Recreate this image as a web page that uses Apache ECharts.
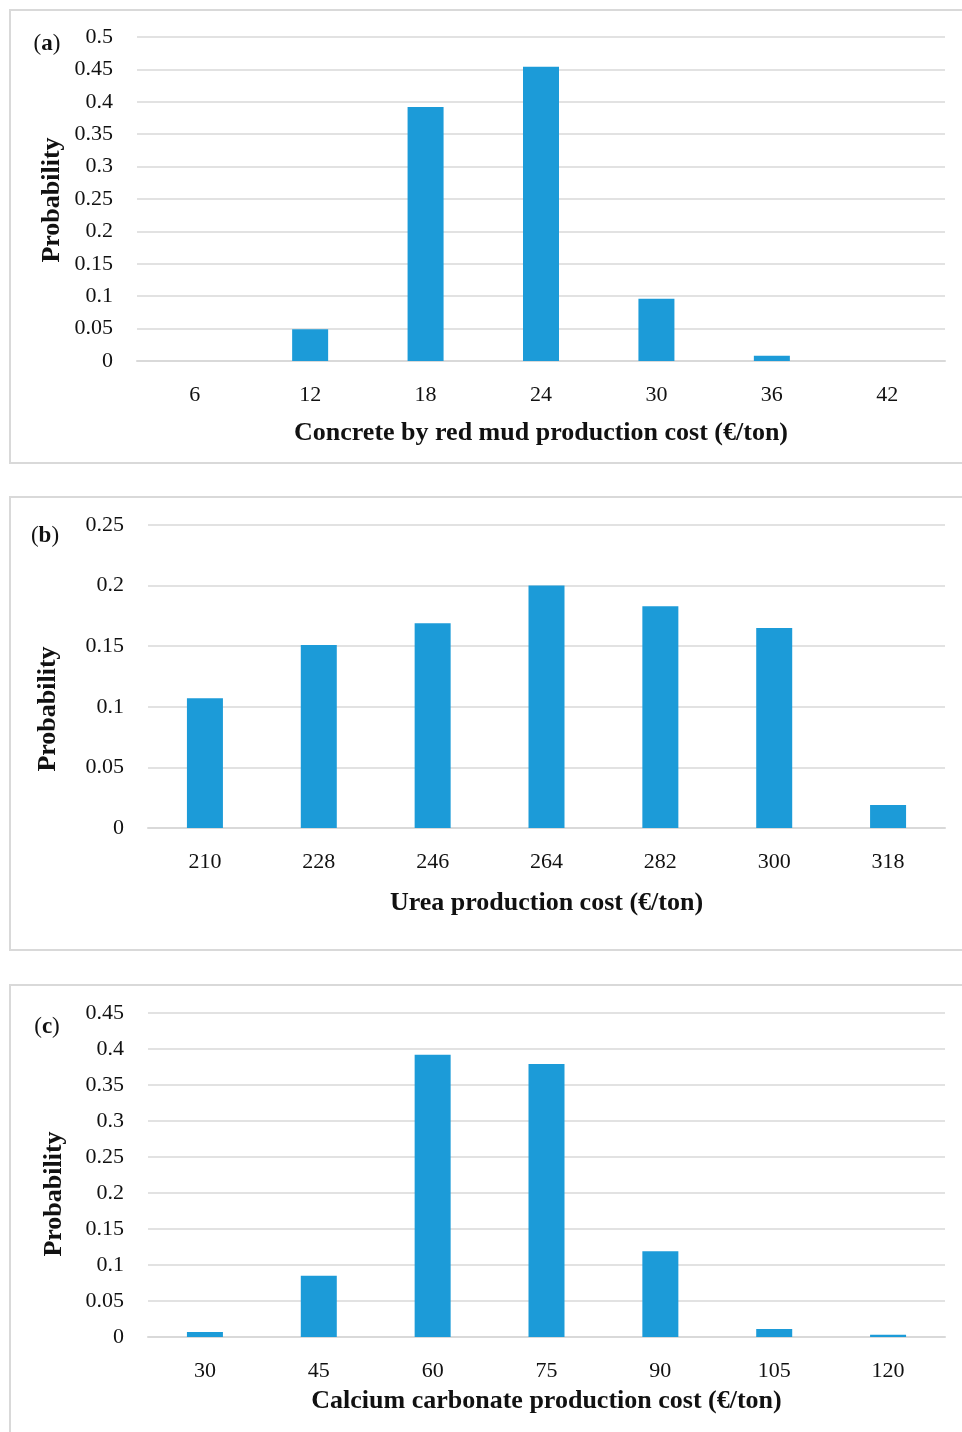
<!DOCTYPE html>
<html>
<head>
<meta charset="utf-8">
<script src="https://cdn.jsdelivr.net/npm/echarts@6/dist/echarts.min.js"></script>
<style>
  html, body { margin: 0; padding: 0; background: #fff; }
  #chart { width: 962px; height: 1432px; }
</style>
</head>
<body>
<div id="chart"></div>
<script>
// Probability distributions of production costs (€/ton)
const catsA = ['6', '12', '18', '24', '30', '36', '42'];
const probA = [0, 0.049, 0.392, 0.454, 0.096, 0.008, 0];

const catsB = ['210', '228', '246', '264', '282', '300', '318'];
const probB = [0.107, 0.151, 0.169, 0.200, 0.183, 0.165, 0.019];

const catsC = ['30', '45', '60', '75', '90', '105', '120'];
const probC = [0.007, 0.085, 0.392, 0.379, 0.119, 0.011, 0.003];

const xTitles = [
  'Concrete by red mud production cost (€/ton)',
  'Urea production cost (€/ton)',
  'Calcium carbonate production cost (€/ton)'
];
const panelTags = ['a', 'b', 'c'];
const yTitle = 'Probability';

const FONT = '"Liberation Serif", "DejaVu Serif", serif';
const BAR = '#1c9bd8';
const GRID_LINE = '#d9d9d9';

const panels = [
  { cats: catsA, vals: probA, max: 0.5,  grid: { left: 137, right: 17, top: 37,   height: 324 }, nameGap: 59, box: [10, 10, 980, 453],  yName: [52, 200],  tag: [47, 44] },
  { cats: catsB, vals: probB, max: 0.25, grid: { left: 148, right: 17, top: 525,  height: 303 }, nameGap: 62, box: [10, 497, 980, 453], yName: [48, 709],  tag: [45, 536] },
  { cats: catsC, vals: probC, max: 0.45, grid: { left: 148, right: 17, top: 1013, height: 324 }, nameGap: 51, box: [10, 985, 980, 480], yName: [54, 1194], tag: [47, 1027] }
];

const grids = [], xAxes = [], yAxes = [], series = [], graphics = [];

panels.forEach((p, i) => {
  grids.push(Object.assign({ containLabel: false }, p.grid));
  xAxes.push({
    type: 'category',
    gridIndex: i,
    data: p.cats,
    boundaryGap: true,
    axisTick: { show: false },
    axisLine: { show: true, lineStyle: { color: GRID_LINE, width: 2 } },
    axisLabel: { color: '#111', fontFamily: FONT, fontSize: 22, margin: 23 },
    name: xTitles[i],
    nameLocation: 'middle',
    nameGap: p.nameGap,
    nameTextStyle: { color: '#111', fontFamily: FONT, fontSize: 26, fontWeight: 'bold' }
  });
  yAxes.push({
    type: 'value',
    gridIndex: i,
    min: 0,
    max: p.max,
    interval: 0.05,
    axisLine: { show: false },
    axisTick: { show: false },
    splitLine: { lineStyle: { color: GRID_LINE, width: 1.5 } },
    axisLabel: {
      color: '#111', fontFamily: FONT, fontSize: 22, margin: 24,
      formatter: v => String(+v.toFixed(2))
    }
  });
  series.push({
    type: 'bar',
    xAxisIndex: i,
    yAxisIndex: i,
    data: p.vals,
    barWidth: 36,
    itemStyle: { color: BAR },
    silent: true
  });
  // panel frame
  graphics.push({
    type: 'rect',
    shape: { x: p.box[0], y: p.box[1], width: p.box[2], height: p.box[3] },
    style: { fill: 'none', stroke: GRID_LINE, lineWidth: 2 },
    z: 0
  });
  // vertical axis title
  graphics.push({
    type: 'text',
    x: p.yName[0],
    y: p.yName[1],
    rotation: Math.PI / 2,
    style: {
      text: yTitle, x: 0, y: 0, align: 'center', verticalAlign: 'middle',
      fill: '#111', font: 'bold 26px ' + FONT
    }
  });
  // panel tag, e.g. (a)
  graphics.push({
    type: 'text',
    x: p.tag[0],
    y: p.tag[1],
    style: {
      text: '(' + '{b|' + panelTags[i] + '})',
      x: 0, y: 0, align: 'center', verticalAlign: 'middle',
      fill: '#111', font: '23px ' + FONT,
      rich: { b: { fontWeight: 'bold', fontSize: 23, fontFamily: FONT, fill: '#111' } }
    }
  });
});

const chart = echarts.init(document.getElementById('chart'), null, { renderer: 'canvas' });
chart.setOption({
  animation: false,
  backgroundColor: '#fff',
  grid: grids,
  xAxis: xAxes,
  yAxis: yAxes,
  series: series,
  graphic: graphics
});
</script>
</body>
</html>
